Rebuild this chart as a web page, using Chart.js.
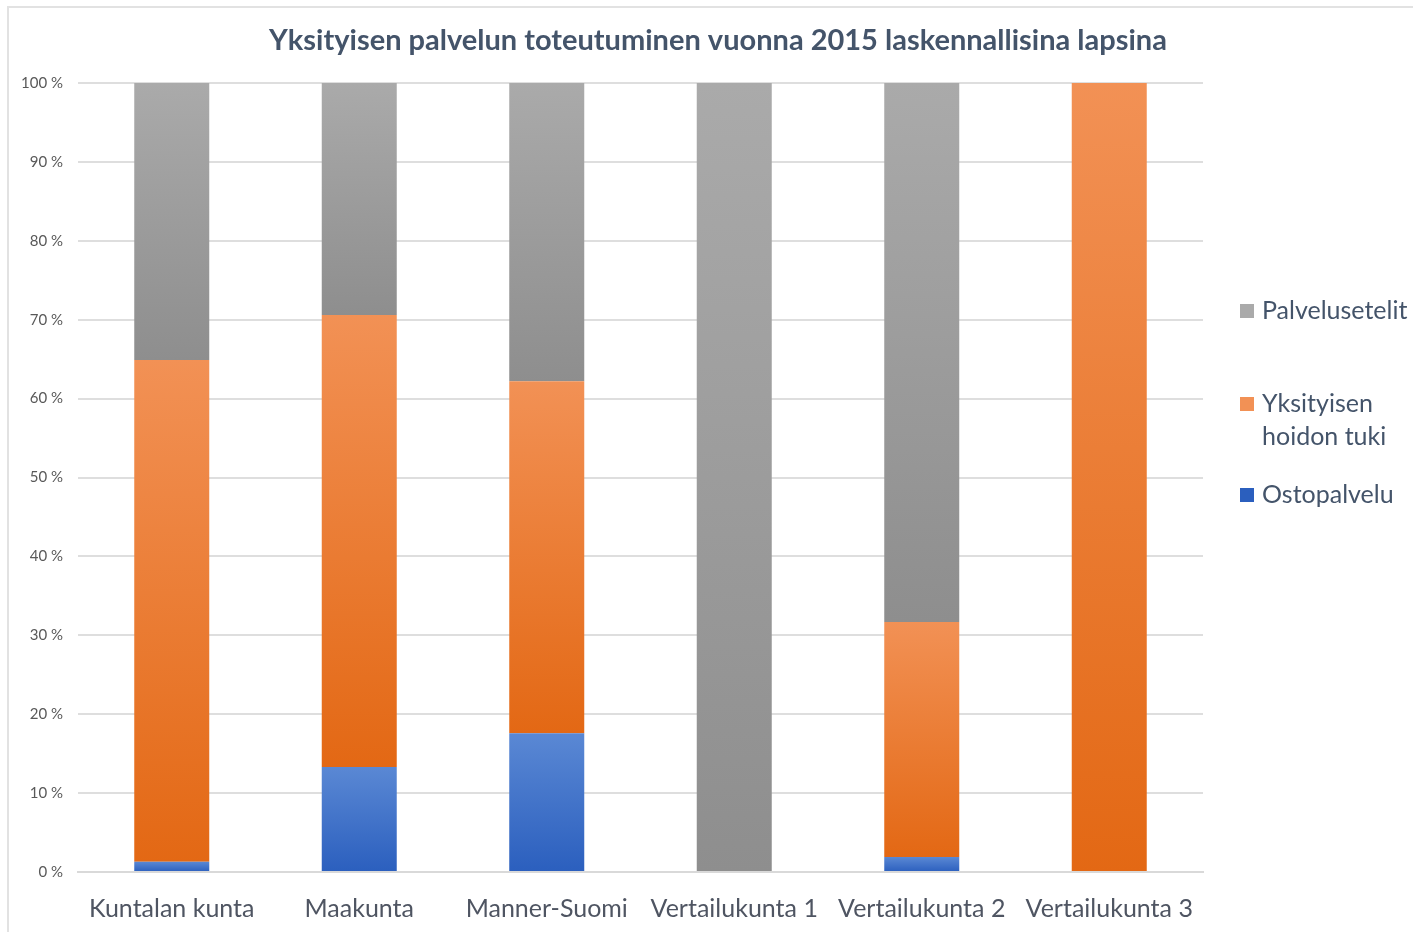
<!DOCTYPE html>
<html>
<head>
<meta charset="utf-8">
<script src="https://cdn.jsdelivr.net/npm/chart.js@4/dist/chart.umd.min.js"></script>
<style>
  html, body { margin: 0; padding: 0; background: #fff; }
  #wrap { position: relative; width: 1413px; height: 932px; }
  #frame { position: absolute; left: 7px; top: 6px; right: 0; bottom: 0; border-left: 2px solid #e2e2e2; border-top: 2px solid #e2e2e2; }
  canvas { position: absolute; left: 0; top: 0; }
</style>
</head>
<body>
<div id="wrap">
  <div id="frame"></div>
  <canvas id="myChart" width="1413" height="932"></canvas>
</div>
<script>
const titleText = 'Yksityisen palvelun toteutuminen vuonna 2015 laskennallisina lapsina';
const categories = ['Kuntalan kunta', 'Maakunta', 'Manner-Suomi', 'Vertailukunta 1', 'Vertailukunta 2', 'Vertailukunta 3'];
const ostopalvelu = [1.3, 13.3, 17.6, 0, 1.9, 0];
const hoidonTuki = [63.6, 57.3, 44.6, 0, 29.8, 100];
const palvelusetelit = [35.1, 29.4, 37.8, 100, 68.3, 0];

const FONT = 'Lato, "Open Sans", sans-serif';

// top colour / bottom colour of every segment
const shades = {
  blue: ['#5a88d4', '#2b5fbe'],
  orange: ['#f29155', '#e36814'],
  gray: ['#aaaaaa', '#8e8e8e']
};

const segmentGradient = (shade) => (context) => {
  const chart = context.chart;
  const { ctx, chartArea, scales } = chart;
  if (!chartArea || context.dataIndex === undefined) return shade[1];
  const i = context.dataIndex;
  let start = 0;
  for (let d = 0; d < context.datasetIndex; d++) {
    start += chart.data.datasets[d].data[i];
  }
  const end = start + chart.data.datasets[context.datasetIndex].data[i];
  const y0 = scales.y.getPixelForValue(start);
  const y1 = scales.y.getPixelForValue(end);
  if (Math.abs(y0 - y1) < 1) return shade[1];
  const g = ctx.createLinearGradient(0, y1, 0, y0);
  g.addColorStop(0, shade[0]);
  g.addColorStop(1, shade[1]);
  return g;
};

// title and the wrapped legend on the right
const decorations = {
  id: 'decorations',
  afterDraw(chart) {
    const ctx = chart.ctx;
    ctx.save();
    ctx.fillStyle = '#44546a';
    ctx.font = 'bold 29px ' + FONT;
    ctx.textAlign = 'center';
    ctx.textBaseline = 'middle';
    ctx.fillText(titleText, 718, 41);

    const items = [
      { lines: ['Palvelusetelit'], color: shades.gray[0], y: 311 },
      { lines: ['Yksityisen', 'hoidon tuki'], color: shades.orange[0], y: 404 },
      { lines: ['Ostopalvelu'], color: shades.blue[1], y: 495 }
    ];
    ctx.font = '25px ' + FONT;
    ctx.textAlign = 'left';
    items.forEach(item => {
      ctx.fillStyle = item.color;
      ctx.fillRect(1240, item.y - 7, 14, 14);
      ctx.fillStyle = '#44546a';
      item.lines.forEach((line, k) => ctx.fillText(line, 1262, item.y + k * 33));
    });
    ctx.restore();
  }
};

const ctx = document.getElementById('myChart').getContext('2d');
const myChart = new Chart(ctx, {
  type: 'bar',
  data: {
    labels: categories,
    datasets: [
      { label: 'Ostopalvelu', data: ostopalvelu, backgroundColor: segmentGradient(shades.blue) },
      { label: 'Yksityisen hoidon tuki', data: hoidonTuki, backgroundColor: segmentGradient(shades.orange) },
      { label: 'Palvelusetelit', data: palvelusetelit, backgroundColor: segmentGradient(shades.gray) }
    ]
  },
  options: {
    responsive: false,
    animation: false,
    layout: { padding: { top: 83, right: 210, bottom: 0, left: 0 } },
    datasets: { bar: { barPercentage: 0.4, categoryPercentage: 1, borderWidth: 0 } },
    plugins: {
      legend: { display: false },
      tooltip: { enabled: false }
    },
    scales: {
      x: {
        stacked: true,
        grid: { display: false },
        border: { color: '#d9d9d9', width: 2 },
        ticks: { color: '#4f5562', font: { family: FONT, size: 25 }, padding: 14, maxRotation: 0 },
        afterFit: s => { s.height = 60; }
      },
      y: {
        stacked: true,
        min: 0,
        max: 100,
        grid: { color: '#dedede', lineWidth: 2, drawTicks: false },
        border: { display: false },
        ticks: {
          stepSize: 10,
          color: '#595959',
          padding: 15,
          font: { family: FONT, size: 15 },
          callback: v => v + ' %'
        },
        afterFit: s => { s.width = 78; }
      }
    }
  },
  plugins: [decorations]
});
</script>
</body>
</html>
